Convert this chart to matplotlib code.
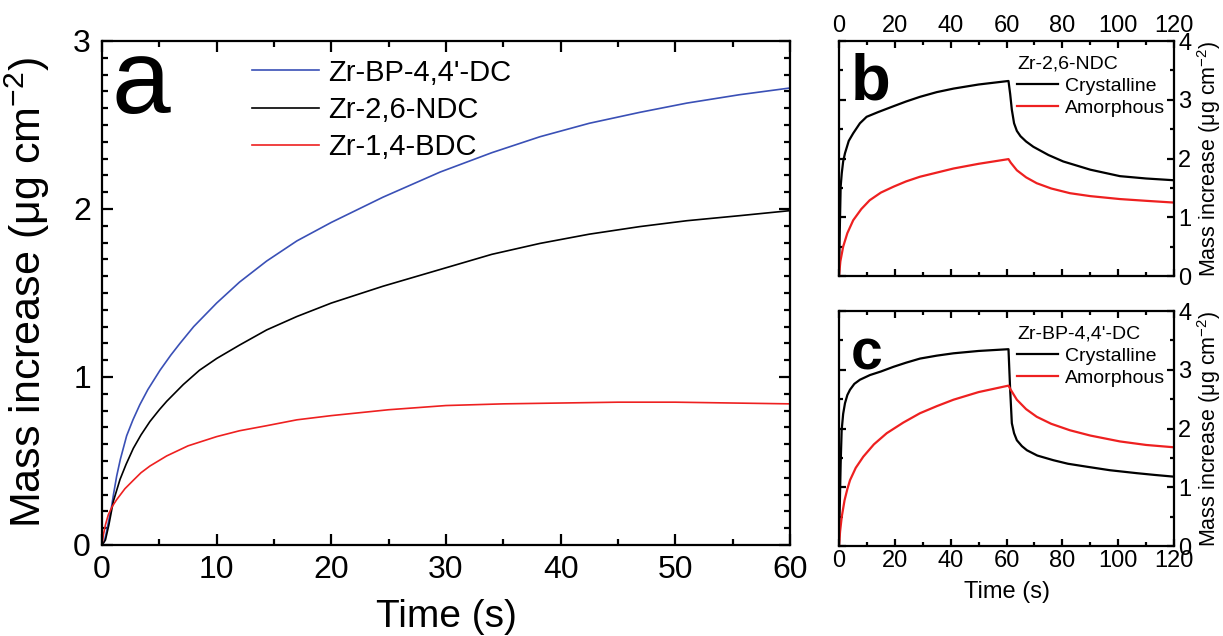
"""
Mass uptake curves: (a) three Zr MOF films over 60 s,
(b)/(c) crystalline vs amorphous films over an uptake/release cycle.
"""

import matplotlib
matplotlib.use('Agg')
import matplotlib.pyplot as plt
from matplotlib.ticker import MultipleLocator

plt.rcParams['font.family'] = ['Liberation Sans', 'DejaVu Sans']
plt.rcParams['mathtext.fontset'] = 'custom'
plt.rcParams['mathtext.rm'] = 'Liberation Sans'
plt.rcParams['mathtext.it'] = 'Liberation Sans:italic'
plt.rcParams['mathtext.default'] = 'regular'

# ---- panel a data ----
bp_t = [0, 0.2, 0.4, 0.6, 0.84, 1.0, 1.28, 1.6, 2.15, 2.7, 3.3, 4.0, 5.06, 6.0, 6.8, 8.0,
        10, 12, 14.36, 17, 20, 24.5, 29.5, 34, 38.2, 42.5, 46.9, 51, 55.6, 60]
bp_v = [0, 0.02, 0.08, 0.15, 0.23, 0.30, 0.41, 0.51, 0.65, 0.745, 0.835, 0.925, 1.04, 1.13, 1.20, 1.30,
        1.44, 1.565, 1.69, 1.81, 1.92, 2.07, 2.22, 2.335, 2.43, 2.51, 2.575, 2.63, 2.68, 2.72]

ndc_t = [0, 0.3, 0.6, 0.99, 1.57, 2.1, 2.73, 3.4, 4.18, 5.0, 5.64, 7.09, 8.5, 10, 12, 14.36,
         17, 20, 24.5, 29.5, 34, 38.2, 42.5, 46.9, 51, 55.6, 60]
ndc_v = [0, 0.03, 0.12, 0.26, 0.39, 0.48, 0.575, 0.655, 0.735, 0.805, 0.855, 0.955, 1.04, 1.11, 1.19, 1.28,
         1.36, 1.44, 1.54, 1.64, 1.73, 1.795, 1.85, 1.895, 1.93, 1.96, 1.99]

bdc_t = [0, 0.12, 0.3, 0.55, 0.9, 1.28, 2.0, 2.73, 3.4, 4.18, 5.64, 7.5, 10, 12, 14.36, 17, 20, 25,
         30, 35, 40, 45, 50, 55, 60]
bdc_v = [0, 0.06, 0.12, 0.18, 0.23, 0.27, 0.335, 0.385, 0.43, 0.47, 0.53, 0.59, 0.645, 0.68, 0.71, 0.745, 0.77, 0.805,
         0.83, 0.84, 0.845, 0.85, 0.85, 0.845, 0.84]

labels_a = ["Zr-BP-4,4'-DC", 'Zr-2,6-NDC', 'Zr-1,4-BDC']

# ---- panel b data (Zr-2,6-NDC) ----
b_cry_t = [0, 0.3, 0.6, 1.0, 1.5, 2.15, 3.5, 5.1, 7.5, 9.9, 14, 19.5, 24, 29, 35, 41, 50, 60.7,
           61.3, 61.9, 62.7, 63.7, 65, 67, 69.6, 75, 80.3, 90, 100.6, 110, 120]
b_cry_v = [0, 0.8, 1.52, 1.75, 1.95, 2.09, 2.3, 2.43, 2.6, 2.71, 2.79, 2.89, 2.97, 3.05, 3.13, 3.19, 3.26, 3.32,
           3.1, 2.83, 2.6, 2.47, 2.38, 2.29, 2.2, 2.06, 1.95, 1.81, 1.70, 1.66, 1.63]
b_amo_t = [0, 0.5, 1.5, 3, 5.1, 8, 11, 15, 19.5, 24, 29, 35, 41, 50, 60.7,
           61.5, 63.7, 67, 70.8, 76, 82.7, 90, 100.6, 110, 120]
b_amo_v = [0, 0.25, 0.5, 0.73, 0.95, 1.14, 1.29, 1.42, 1.52, 1.61, 1.69, 1.76, 1.83, 1.91, 1.99,
           1.93, 1.80, 1.68, 1.58, 1.49, 1.41, 1.36, 1.31, 1.28, 1.25]

# ---- panel c data (Zr-BP-4,4'-DC) ----
c_cry_t = [0, 0.3, 0.6, 0.96, 1.5, 2.15, 3.0, 3.95, 5.5, 7.5, 11.1, 15, 19.5, 24, 29, 35, 41, 50, 60.7,
           61.3, 61.9, 62.7, 63.7, 65.5, 67.3, 71, 76.8, 82, 88.7, 97, 106.6, 113, 120]
c_cry_v = [0, 0.7, 1.4, 1.97, 2.25, 2.43, 2.57, 2.66, 2.76, 2.83, 2.91, 2.97, 3.05, 3.12, 3.19, 3.24, 3.28, 3.32, 3.35,
           2.66, 2.09, 1.92, 1.80, 1.70, 1.63, 1.54, 1.46, 1.40, 1.35, 1.29, 1.24, 1.21, 1.18]
c_amo_t = [0, 0.4, 1, 2, 3, 3.95, 6, 8.7, 12.5, 17.1, 23, 29, 35, 41, 50, 60.7,
           61.5, 63.7, 67, 70.8, 76, 82.7, 90, 100.6, 110, 120]
c_amo_v = [0, 0.25, 0.5, 0.78, 0.97, 1.12, 1.33, 1.52, 1.73, 1.92, 2.10, 2.26, 2.38, 2.49, 2.62, 2.73,
           2.66, 2.49, 2.33, 2.20, 2.08, 1.97, 1.88, 1.78, 1.72, 1.68]

labels_bc = ['Crystalline', 'Amorphous']

BLUE = '#3a50b6'
RED = '#ee2020'
YLABEL = 'Mass increase (μg cm$^{-2}$)'


def style_axes(ax, lw, major_len, minor_len, size):
    for s in ax.spines.values():
        s.set_linewidth(lw)
    ax.tick_params(which='both', direction='in', top=True, right=True, bottom=True, left=True,
                   width=lw, labelsize=size)
    ax.tick_params(which='major', length=major_len)
    ax.tick_params(which='minor', length=minor_len)


def draw_panel_a(fig):
    ax = fig.add_axes([0.0834, 0.1431, 0.5625, 0.7925])
    ax.plot(bp_t, bp_v, color=BLUE, lw=1.2, label=labels_a[0])
    ax.plot(ndc_t, ndc_v, color='black', lw=1.2, label=labels_a[1])
    ax.plot(bdc_t, bdc_v, color=RED, lw=1.2, label=labels_a[2])
    ax.set_xlim(0, 60)
    ax.set_ylim(0, 3)
    ax.xaxis.set_major_locator(MultipleLocator(10))
    ax.xaxis.set_minor_locator(MultipleLocator(5))
    ax.yaxis.set_major_locator(MultipleLocator(1))
    ax.yaxis.set_minor_locator(MultipleLocator(0.1))
    style_axes(ax, 1.6, 8, 4.5, 23)
    ax.tick_params(axis='x', pad=7)
    ax.tick_params(axis='y', pad=8)
    ax.set_xlabel('Time (s)', fontsize=28, labelpad=10)
    ax.set_ylabel(YLABEL, fontsize=31)
    ax.yaxis.set_label_coords(-0.073, 0.5)
    ax.text(0.014, 0.857, 'a', transform=ax.transAxes, fontsize=76, va='baseline', ha='left')
    ax.legend(loc='upper left', bbox_to_anchor=(0.218, 0.965), frameon=False, fontsize=21,
              handlelength=2.3, handletextpad=0.3, labelspacing=0.32, borderpad=0, borderaxespad=0)


def draw_small(fig, rect, cry_t, cry_v, amo_t, amo_v, title, letter, letter_size, top_labels):
    ax = fig.add_axes(rect)
    ax.plot(cry_t, cry_v, color='black', lw=1.6, label=labels_bc[0])
    ax.plot(amo_t, amo_v, color=RED, lw=1.6, label=labels_bc[1])
    ax.set_xlim(0, 120)
    ax.set_ylim(0, 4)
    ax.xaxis.set_major_locator(MultipleLocator(20))
    ax.xaxis.set_minor_locator(MultipleLocator(10))
    ax.yaxis.set_major_locator(MultipleLocator(1))
    ax.yaxis.set_minor_locator(MultipleLocator(0.5))
    style_axes(ax, 1.6, 5, 3, 17)
    ax.tick_params(labelleft=False, labelright=True, pad=3)
    if top_labels:
        ax.tick_params(labelbottom=False, labeltop=True)
    else:
        ax.set_xlabel('Time (s)', fontsize=17, labelpad=6)
    ax.yaxis.set_label_position('right')
    ax.set_ylabel(YLABEL, fontsize=15.5)
    ax.yaxis.set_label_coords(1.062, 0.5)
    ax.text(0.035, 0.752, letter, transform=ax.transAxes, fontsize=letter_size, fontweight='bold',
            va='baseline', ha='left')
    ax.legend(loc='upper left', bbox_to_anchor=(0.531, 0.94), frameon=False, fontsize=14,
              title=title, title_fontsize=14, alignment='left',
              handlelength=2.1, handletextpad=0.35, labelspacing=0.25, borderpad=0, borderaxespad=0)
    return ax


def main():
    fig = plt.figure(figsize=(12.23, 6.36), dpi=100)
    draw_panel_a(fig)
    draw_small(fig, [0.686, 0.566, 0.274, 0.3695], b_cry_t, b_cry_v, b_amo_t, b_amo_v,
               'Zr-2,6-NDC', 'b', 47, True)
    draw_small(fig, [0.686, 0.1415, 0.274, 0.3695], c_cry_t, c_cry_v, c_amo_t, c_amo_v,
               "Zr-BP-4,4'-DC", 'c', 41, False)
    fig.savefig('out.png', dpi=100)


if __name__ == "__main__":
    main()
